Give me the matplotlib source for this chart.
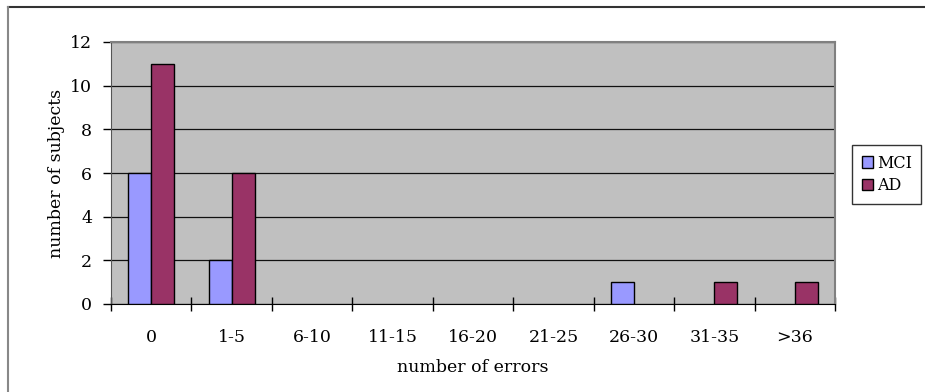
import numpy as np
import matplotlib.pyplot as plt
from matplotlib.lines import Line2D

categories = ['0', '1-5', '6-10', '11-15', '16-20', '21-25', '26-30', '31-35', '>36']
mci = [6, 2, 0, 0, 0, 0, 1, 0, 0]
ad = [11, 6, 0, 0, 0, 0, 0, 1, 1]

plt.rcParams['font.family'] = ['DejaVu Serif']

fig = plt.figure(figsize=(9.25, 3.92), dpi=100)
ax = fig.add_axes([111 / 925, 1 - 304 / 392, 724 / 925, 262 / 392])

x = np.arange(len(categories))
w = 1 / 3.5
# empty categories get no outline
ax.bar(x - w / 2, mci, w, color='#9999ff', label='MCI', zorder=3,
       edgecolor=['black' if v else 'none' for v in mci], linewidth=1)
ax.bar(x + w / 2, ad, w, color='#993366', label='AD', zorder=3,
       edgecolor=['black' if v else 'none' for v in ad], linewidth=1)

ax.set_facecolor('#c0c0c0')
ax.set_xlim(-0.5, len(categories) - 0.5)
ax.set_ylim(0, 12)
ax.set_yticks(range(0, 13, 2))
ax.yaxis.grid(True, color='#111111', linewidth=0.9, zorder=1)
ax.set_axisbelow(True)

# category labels at centres, tick marks between categories
ax.set_xticks(x)
ax.set_xticklabels(categories, fontsize=12.5)
ax.set_xticks(np.arange(-0.5, len(categories)), minor=True)
ax.tick_params(axis='x', which='major', length=0, pad=18)
ax.tick_params(axis='x', which='minor', length=10, width=1, color='black', direction='inout')
ax.tick_params(axis='y', length=5.5, width=1, labelsize=12.5, pad=8)

for s in ['top', 'right']:
    ax.spines[s].set_color('#808080')
    ax.spines[s].set_linewidth(1.5)
ax.spines['left'].set_color('#555555')
ax.spines['bottom'].set_color('black')

ax.set_xlabel('number of errors', fontsize=12.5, labelpad=9)
ax.set_ylabel('number of subjects', fontsize=12.5, labelpad=3.5)

fig.legend(loc='upper left', bbox_to_anchor=(852 / 925, 1 - 145 / 392),
           fontsize=11.5, frameon=True, fancybox=False, edgecolor='#333333',
           handlelength=0.7, handleheight=0.7, handletextpad=0.25,
           borderpad=0.6, labelspacing=0.35, framealpha=1, borderaxespad=0)

# outer chart frame
fig.add_artist(Line2D([8 / 925, 1], [1 - 7 / 392, 1 - 7 / 392], color='#333333', lw=1.5))
fig.add_artist(Line2D([8 / 925, 8 / 925], [0, 1 - 7 / 392], color='#888888', lw=1.5))

fig.savefig('out.png', dpi=100)
